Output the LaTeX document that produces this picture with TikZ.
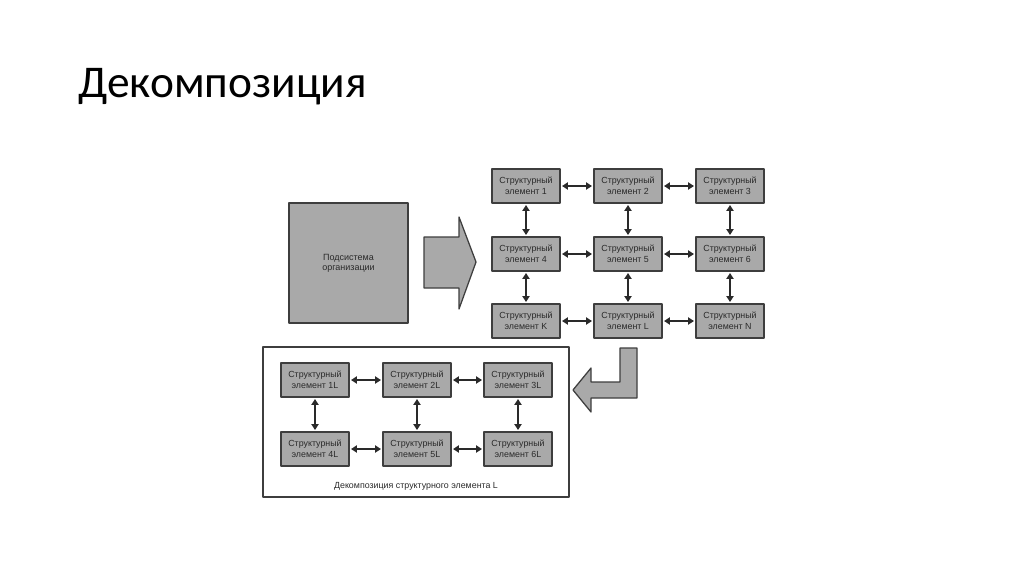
\documentclass[tikz,border=0pt]{standalone}
\usepackage{fontspec}
\newfontfamily\titlefont{Carlito}
\newfontfamily\boxfont{Liberation Sans}
\usetikzlibrary{arrows.meta}
\definecolor{boxgray}{HTML}{A9A9A9}
\definecolor{edgegray}{HTML}{3E3E3E}
\definecolor{inkgray}{HTML}{2A2A2A}

\begin{document}
\begin{tikzpicture}[x=0.025cm,y=-0.025cm,line join=round,
    elem/.style={draw=edgegray,fill=boxgray,line width=0.9pt,minimum width=1.7cm,
      minimum height=0.85cm,inner sep=0pt,align=center,text=inkgray,
      font=\boxfont\fontsize{6.3}{8.1}\selectfont},
    link/.style={{Triangle[length=4.2pt,width=5.2pt]}-{Triangle[length=4.2pt,width=5.2pt]},
      draw=inkgray,line width=0.9pt,shorten <=1pt,shorten >=1pt}]
  \useasboundingbox (0,0) rectangle (1024,574);
  \node[anchor=base west,inner sep=0pt,font=\titlefont\fontsize{32.3}{36}\selectfont] (title) at (78,97) {Декомпозиция};
  % subsystem and big arrow
  \node[draw=edgegray,fill=boxgray,line width=0.9pt,minimum width=2.975cm,minimum height=3cm,
    inner sep=0pt,align=center,text=inkgray,font=\boxfont\fontsize{6.4}{7.2}\selectfont]
    (sys) at (348.5,263) {Подсистема\\организации};
  \filldraw[fill=boxgray,draw=edgegray,line width=0.9pt]
    (424,237) -- (459,237) -- (459,217) -- (476,262) -- (459,309) -- (459,288) -- (424,288) -- cycle;
  % first level elements
  \node[elem] (e1) at (526,186) {Структурный\\элемент 1};
  \node[elem] (e2) at (628,186) {Структурный\\элемент 2};
  \node[elem] (e3) at (730,186) {Структурный\\элемент 3};
  \node[elem] (e4) at (526,254) {Структурный\\элемент 4};
  \node[elem] (e5) at (628,254) {Структурный\\элемент 5};
  \node[elem] (e6) at (730,254) {Структурный\\элемент 6};
  \node[elem] (eK) at (526,321) {Структурный\\элемент K};
  \node[elem] (eL) at (628,321) {Структурный\\элемент L};
  \node[elem] (eN) at (730,321) {Структурный\\элемент N};
  \draw[link] (e1) -- (e2);
  \draw[link] (e2) -- (e3);
  \draw[link] (e4) -- (e5);
  \draw[link] (e5) -- (e6);
  \draw[link] (eK) -- (eL);
  \draw[link] (eL) -- (eN);
  \draw[link] (e1) -- (e4);
  \draw[link] (e4) -- (eK);
  \draw[link] (e2) -- (e5);
  \draw[link] (e5) -- (eL);
  \draw[link] (e3) -- (e6);
  \draw[link] (e6) -- (eN);
  % bent arrow
  \filldraw[fill=boxgray,draw=edgegray,line width=0.9pt]
    (620,348) -- (637,348) -- (637,398) -- (591,398) -- (591,412) -- (573,390)
    -- (591,368) -- (591,382) -- (620,382) -- cycle;
  % decomposition of L
  \draw[edgegray,line width=0.8pt] (263,347) rectangle (569,497);
  \node[elem] (l1) at (315,380) {Структурный\\элемент 1L};
  \node[elem] (l2) at (417,380) {Структурный\\элемент 2L};
  \node[elem] (l3) at (518,380) {Структурный\\элемент 3L};
  \node[elem] (l4) at (315,449) {Структурный\\элемент 4L};
  \node[elem] (l5) at (417,449) {Структурный\\элемент 5L};
  \node[elem] (l6) at (518,449) {Структурный\\элемент 6L};
  \draw[link] (l1) -- (l2);
  \draw[link] (l2) -- (l3);
  \draw[link] (l4) -- (l5);
  \draw[link] (l5) -- (l6);
  \draw[link] (l1) -- (l4);
  \draw[link] (l2) -- (l5);
  \draw[link] (l3) -- (l6);
  \node[text=inkgray,font=\boxfont\fontsize{6.3}{7.5}\selectfont] (cap) at (416,486)
    {Декомпозиция структурного элемента L};
\end{tikzpicture}
\end{document}
